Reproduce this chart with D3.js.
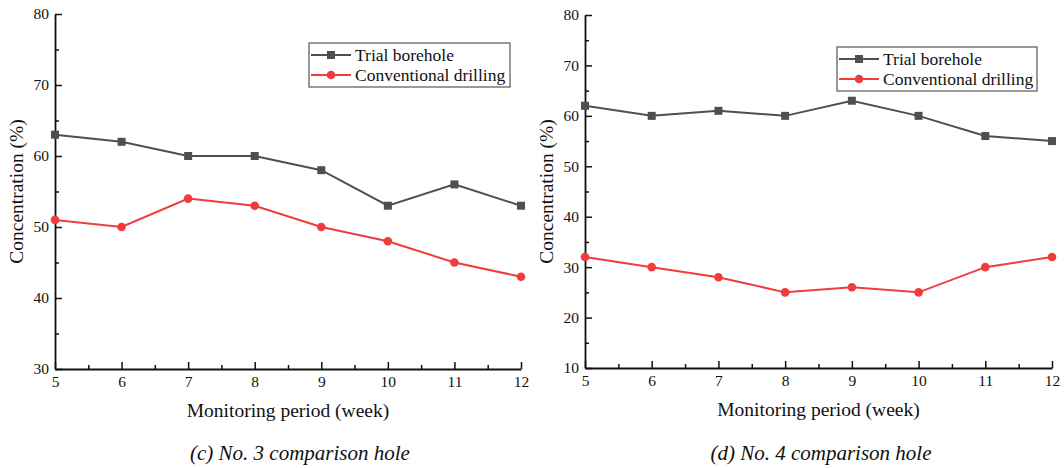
<!DOCTYPE html>
<html><head><meta charset="utf-8">
<script src="https://cdn.jsdelivr.net/npm/d3@7"></script>
<style>
body{margin:0;background:#fff;}
text{font-family:"Liberation Serif","Times New Roman",serif;fill:#111;}
</style></head>
<body><svg id="c" width="1064" height="468"></svg>
<script>
const weeks = [5,6,7,8,9,10,11,12];
const trialC = [63,62,60,60,58,53,56,53];
const convC = [51,50,54,53,50,48,45,43];
const trialD = [62,60,61,60,63,60,56,55];
const convD = [32,30,28,25,26,25,30,32];
const seriesNames = ["Trial borehole","Conventional drilling"];
const captions = ["(c) No. 3 comparison hole","(d) No. 4 comparison hole"];
const yTicksC = [30,40,50,60,70,80];
const yTicksD = [10,20,30,40,50,60,70,80];
const xTitle = "Monitoring period (week)";
const yTitle = "Concentration (%)";

const gray = "#4f4f4f", red = "#f03c3c";
const svg = d3.select("#c");

function panel(cfg){
  const g = svg.append("g");
  const x = d3.scaleLinear().domain([5,12]).range([cfg.x0,cfg.x1]);
  const y = d3.scaleLinear().domain(cfg.ydom).range([cfg.y0,cfg.y1]);
  const minorX = d3.range(5.5,12,1);
  const minorY = d3.range(cfg.ydom[0]+5, cfg.ydom[1], 10);
  g.append("g").attr("transform",`translate(0,${cfg.y0})`)
    .call(d3.axisBottom(x).tickValues(minorX).tickSize(-4).tickFormat(""))
    .call(a=>a.select(".domain").remove())
    .selectAll("line").attr("stroke","#111").attr("stroke-width",1.5);
  g.append("g").attr("transform",`translate(${cfg.x0},0)`)
    .call(d3.axisLeft(y).tickValues(minorY).tickSize(-4).tickFormat(""))
    .call(a=>a.select(".domain").remove())
    .selectAll("line").attr("stroke","#111").attr("stroke-width",1.5);
  const ax = g.append("g").attr("transform",`translate(0,${cfg.y0})`)
    .call(d3.axisBottom(x).tickValues(weeks).tickSizeInner(-7).tickSizeOuter(0).tickPadding(7).tickFormat(d3.format("d")));
  const ay = g.append("g").attr("transform",`translate(${cfg.x0},0)`)
    .call(d3.axisLeft(y).tickValues(cfg.yticks).tickSizeInner(-7).tickSizeOuter(0).tickPadding(6));
  [ax,ay].forEach(a=>{
    a.attr("font-family",null);
    a.select(".domain").attr("stroke","#111").attr("stroke-width",1.8);
    a.selectAll(".tick line").attr("stroke","#111").attr("stroke-width",1.5);
    a.selectAll(".tick text").attr("font-size",15.5).attr("fill","#111");
  });
  const line = d3.line().x((d,i)=>x(weeks[i])).y(d=>y(d));
  const data = [{v:cfg.trial,c:gray,m:"sq"},{v:cfg.conv,c:red,m:"ci"}];
  data.forEach(s=>{
    g.append("path").attr("d",line(s.v)).attr("fill","none").attr("stroke",s.c).attr("stroke-width",2);
    s.v.forEach((d,i)=>{
      if(s.m==="sq") g.append("rect").attr("x",x(weeks[i])-4).attr("y",y(d)-4).attr("width",8).attr("height",8).attr("fill",s.c);
      else g.append("circle").attr("cx",x(weeks[i])).attr("cy",y(d)).attr("r",4.3).attr("fill",s.c);
    });
  });
  g.append("text").attr("x",(cfg.x0+cfg.x1)/2).attr("y",cfg.y0+48).attr("text-anchor","middle").attr("font-size",19.5).text(xTitle);
  g.append("text").attr("transform",`translate(${cfg.yt},${(cfg.y0+cfg.y1)/2}) rotate(-90)`).attr("text-anchor","middle").attr("font-size",19.5).text(yTitle);
  g.append("text").attr("x",cfg.capx).attr("y",460).attr("text-anchor","middle").attr("font-size",21).attr("font-style","italic").text(cfg.cap);
  const L = cfg.leg;
  g.append("rect").attr("x",L[0]).attr("y",L[1]).attr("width",L[2]).attr("height",44).attr("fill","#fff").attr("stroke","#555").attr("stroke-width",1.2);
  data.forEach((s,i)=>{
    const yy = L[1]+12+i*20;
    g.append("line").attr("x1",L[0]+2).attr("x2",L[0]+42).attr("y1",yy).attr("y2",yy).attr("stroke",s.c).attr("stroke-width",2);
    if(s.m==="sq") g.append("rect").attr("x",L[0]+18).attr("y",yy-4).attr("width",8).attr("height",8).attr("fill",s.c);
    else g.append("circle").attr("cx",L[0]+22).attr("cy",yy).attr("r",4.3).attr("fill",s.c);
    g.append("text").attr("x",L[0]+46).attr("y",yy+6).attr("font-size",17.5).text(seriesNames[i]);
  });
}

panel({x0:55,x1:521,y0:369,y1:14,ydom:[30,80],yticks:yTicksC,trial:trialC,conv:convC,yt:23,capx:300,cap:captions[0],leg:[309,43,201]});
panel({x0:585,x1:1052,y0:368,y1:15,ydom:[10,80],yticks:yTicksD,trial:trialD,conv:convD,yt:553,capx:821,cap:captions[1],leg:[837,47,200]});
</script></body></html>
